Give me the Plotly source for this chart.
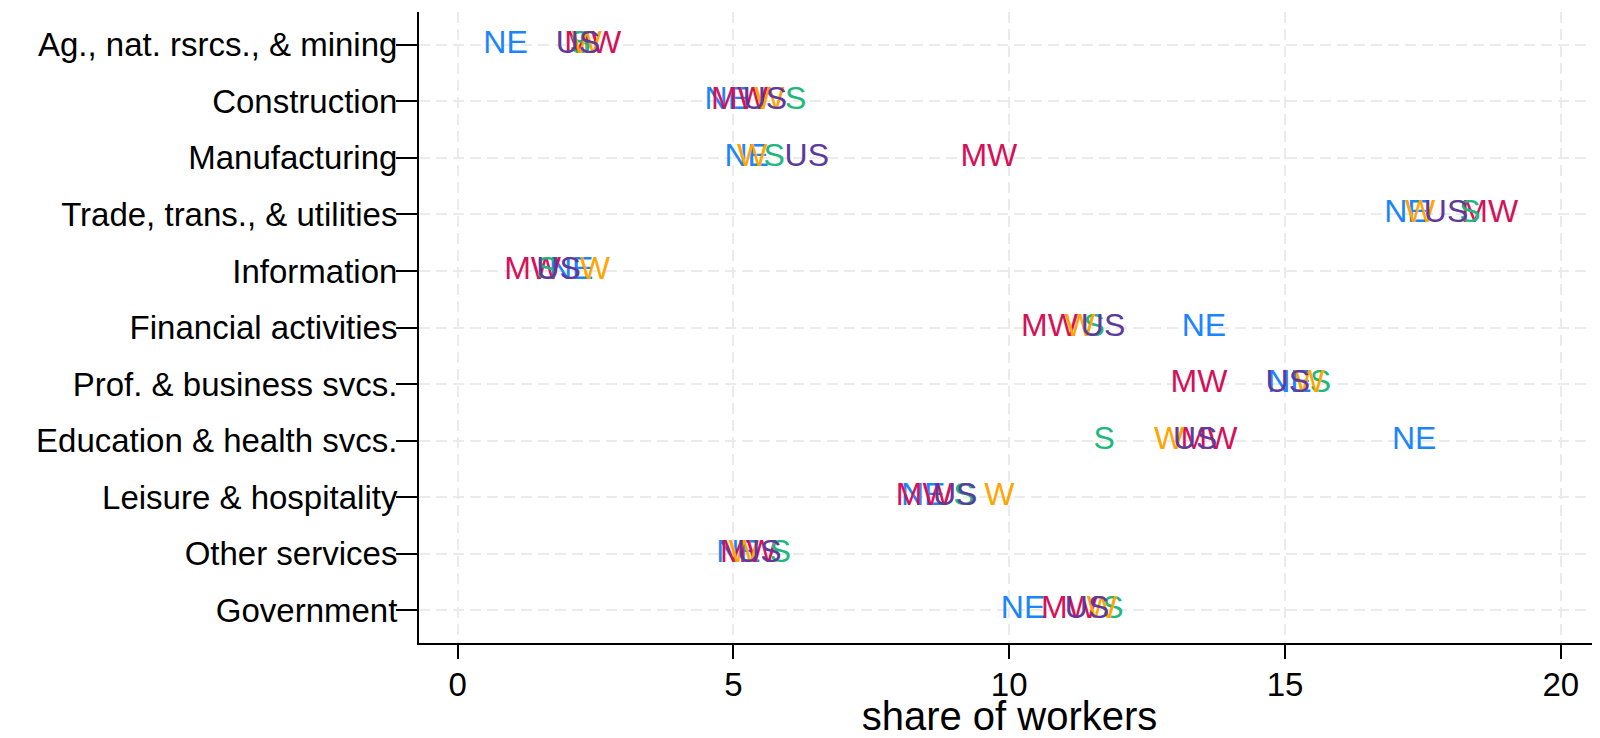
import plotly.graph_objects as go

industries = [
    "Ag., nat. rsrcs., & mining",
    "Construction",
    "Manufacturing",
    "Trade, trans., & utilities",
    "Information",
    "Financial activities",
    "Prof. & business svcs.",
    "Education & health svcs.",
    "Leisure & hospitality",
    "Other services",
    "Government",
]

# share of workers (%) by region, same order as industries
ne = [0.87, 4.88, 5.24, 17.20, 2.06, 13.53, 15.08, 17.34, 8.44, 5.09, 10.25]
mw = [2.45, 5.11, 9.63, 18.71, 1.36, 10.73, 13.44, 13.62, 8.46, 5.27, 11.09]
south = [2.22, 6.13, 5.74, 18.35, 1.62, 11.54, 15.64, 11.72, 9.18, 5.85, 11.88]
west = [2.34, 5.65, 5.34, 17.45, 2.49, 11.28, 15.44, 12.90, 9.82, 5.19, 11.68]
us = [2.18, 5.57, 6.33, 17.92, 1.83, 11.70, 15.05, 13.37, 9.02, 5.47, 11.41]

series = [
    ("NE", ne, "#1A85FF"),
    ("MW", mw, "#D41159"),
    ("S", south, "#1DB87D"),
    ("W", west, "#FFA400"),
    ("US", us, "#5D3A9B"),
]

font = "Liberation Sans, Arial, Helvetica, sans-serif"

fig = go.Figure()
for name, vals, color in series:
    fig.add_trace(go.Scatter(
        x=vals, y=industries, mode="text", text=[name] * len(vals),
        textposition="middle center",
        textfont=dict(family=font, size=32, color=color),
        showlegend=False, hoverinfo="x+y",
    ))

grid = dict(showgrid=True, gridcolor="#ebebeb", gridwidth=2, griddash="11px,6px")

# page body keeps its 8px margin, so the figure is a bit smaller than the window
fig.update_layout(
    width=1592, height=730,
    margin=dict(l=411, r=0, t=4, b=95),
    paper_bgcolor="white", plot_bgcolor="white",
    font=dict(family=font, size=33, color="black"),
    xaxis=dict(
        range=[-0.70, 20.71], tickvals=[0, 5, 10, 15, 20],
        ticks="outside", ticklen=14, tickwidth=2, tickcolor="black",
        showline=True, linecolor="black", linewidth=2, zeroline=False,
        title=dict(text="share of workers", standoff=2),
        tickfont=dict(size=33), ticklabelstandoff=-3, **grid,
    ),
    yaxis=dict(
        categoryorder="array", categoryarray=industries,
        range=[10.58, -0.58],
        ticks="outside", ticklen=21, tickwidth=2, tickcolor="black",
        showline=True, linecolor="black", linewidth=2, zeroline=False,
        tickfont=dict(size=33), ticklabelstandoff=-8, **grid,
    ),
)

fig.write_html("out.html")
